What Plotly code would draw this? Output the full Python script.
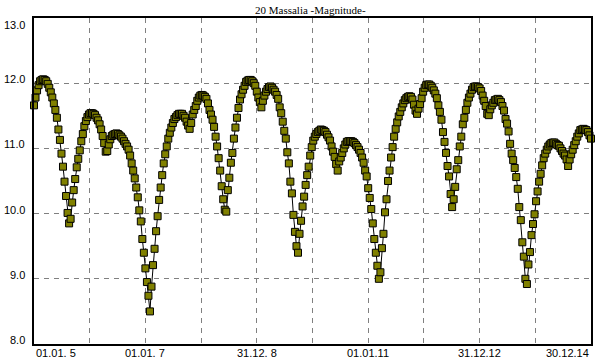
import pandas as pd
import plotly.graph_objects as go

# Magnitude of 20 Massalia, one value every 10 days from 01.01.2005
mag = [
    11.66, 11.78, 11.89, 11.97, 12.03, 12.05, 12.06, 12.05, 12.03, 11.99,
    11.93, 11.86, 11.78, 11.69, 11.59, 11.47, 11.29, 11.13, 10.92, 10.72,
    10.49, 10.27, 10.01, 9.85, 9.92, 10.17, 10.36, 10.53, 10.71, 10.84,
    10.97, 11.11, 11.22, 11.34, 11.42, 11.48, 11.52, 11.54, 11.54, 11.53,
    11.51, 11.47, 11.43, 11.37, 11.29, 11.19, 11.08, 10.95, 10.96, 11.06,
    11.14, 11.19, 11.21, 11.22, 11.23, 11.22, 11.20, 11.18, 11.15, 11.11,
    11.07, 11.03, 10.98, 10.89, 10.77, 10.66, 10.54, 10.40, 10.25, 10.05,
    9.88, 9.61, 9.40, 9.16, 8.95, 8.74, 8.50, 8.88, 9.21, 9.46,
    9.73, 9.96, 10.21, 10.40, 10.59, 10.77, 10.91, 11.03, 11.15, 11.24,
    11.32, 11.39, 11.45, 11.48, 11.51, 11.53, 11.53, 11.53, 11.50, 11.47,
    11.41, 11.35, 11.30, 11.39, 11.52, 11.59, 11.65, 11.73, 11.78, 11.81,
    11.82, 11.81, 11.79, 11.76, 11.69, 11.59, 11.52, 11.44, 11.33, 11.18,
    11.03, 10.85, 10.66, 10.42, 10.22, 10.06, 10.03, 10.36, 10.55, 10.78,
    10.93, 11.15, 11.32, 11.47, 11.62, 11.75, 11.83, 11.90, 11.96, 12.02,
    12.04, 12.05, 12.05, 12.03, 12.00, 11.96, 11.87, 11.78, 11.71, 11.63,
    11.73, 11.81, 11.87, 11.91, 11.94, 11.95, 11.93, 11.90, 11.87, 11.82,
    11.76, 11.63, 11.54, 11.41, 11.27, 11.15, 10.94, 10.77, 10.49, 10.31,
    9.98, 9.72, 9.50, 9.40, 9.69, 9.89, 10.11, 10.26, 10.44, 10.59,
    10.72, 10.89, 11.02, 11.12, 11.18, 11.22, 11.25, 11.27, 11.29, 11.28,
    11.27, 11.25, 11.21, 11.17, 11.12, 11.03, 10.95, 10.87, 10.76, 10.66,
    10.80, 10.86, 10.93, 11.00, 11.06, 11.10, 11.11, 11.11, 11.11, 11.10,
    11.08, 11.05, 11.02, 10.98, 10.93, 10.86, 10.78, 10.66, 10.57, 10.39,
    10.24, 10.07, 9.85, 9.61, 9.40, 9.20, 9.00, 9.10, 9.47, 9.69,
    10.02, 10.22, 10.50, 10.66, 10.86, 11.02, 11.18, 11.30, 11.40, 11.49,
    11.56, 11.63, 11.69, 11.74, 11.77, 11.79, 11.80, 11.79, 11.75, 11.67,
    11.58, 11.53, 11.61, 11.68, 11.77, 11.87, 11.93, 11.97, 11.98, 11.98,
    11.96, 11.93, 11.89, 11.84, 11.77, 11.66, 11.56, 11.44, 11.25, 11.10,
    10.93, 10.73, 10.57, 10.30, 10.10, 10.22, 10.41, 10.68, 10.82, 11.03,
    11.18, 11.37, 11.47, 11.59, 11.70, 11.78, 11.84, 11.90, 11.94, 11.95,
    11.95, 11.94, 11.92, 11.88, 11.81, 11.73, 11.65, 11.53, 11.51, 11.60,
    11.66, 11.70, 11.74, 11.75, 11.76, 11.74, 11.71, 11.65, 11.58, 11.45,
    11.38, 11.26, 11.07, 10.92, 10.82, 10.70, 10.56, 10.38, 10.10, 9.90,
    9.56, 9.34, 9.00, 8.92, 9.22, 9.41, 9.67, 9.84, 9.99, 10.19,
    10.34, 10.49, 10.61, 10.74, 10.85, 10.92, 10.98, 11.03, 11.06, 11.08,
    11.09, 11.09, 11.07, 11.05, 11.04, 11.00, 10.96, 10.92, 10.89, 10.83,
    10.73, 10.83, 10.91, 10.98, 11.05, 11.11, 11.18, 11.23, 11.28, 11.29,
    11.30, 11.29, 11.28, 11.25, 11.20, 11.15,
]
dates = pd.date_range("2005-01-01", periods=len(mag), freq="10D")

# Axis ticks / grid
grid_dates = ["2005-01-01", "2006-01-01", "2007-01-01", "2008-01-01", "2008-12-31",
              "2010-01-01", "2011-01-01", "2011-12-31", "2012-12-31", "2013-12-31",
              "2014-12-30"]
x_label_dates = ["2005-01-01", "2007-01-01", "2008-12-31", "2011-01-01", "2012-12-31", "2014-12-30"]
x_labels = ["01.01. 5", "01.01. 7", "31.12. 8", "01.01.11", "31.12.12", "30.12.14"]
y_values = [8, 9, 10, 11, 12, 13]
y_labels = ["8.0", "9.0", "10.0", "11.0", "12.0", "13.0"]
title_text = "20 Massalia -Magnitude-"

fig = go.Figure()
fig.add_trace(go.Scatter(
    x=dates, y=mag, mode="lines+markers",
    line=dict(color="black", width=1),
    marker=dict(symbol="square", size=7, color="#808000",
                line=dict(color="black", width=1)),
    cliponaxis=False, hoverinfo="skip", showlegend=False,
))

fig.update_xaxes(
    type="date", range=[grid_dates[0], grid_dates[-1]],
    tickmode="array", tickvals=grid_dates, showticklabels=False, ticks="",
    showgrid=True, gridcolor="#808080", gridwidth=1, griddash="5px,5px",
    showline=True, mirror=True, linecolor="black", linewidth=2, zeroline=False,
)
fig.update_yaxes(
    range=[y_values[0], y_values[-1]],
    tickmode="array", tickvals=y_values, showticklabels=False, ticks="",
    showgrid=True, gridcolor="#808080", gridwidth=1, griddash="5px,5px",
    showline=True, mirror=True, linecolor="black", linewidth=2, zeroline=False,
)

annotations = []
lab_font = dict(family="Liberation Sans, Arial, sans-serif", size=11, color="black")
for i, (d, t) in enumerate(zip(x_label_dates, x_labels)):
    anchor = "left" if i == 0 else ("right" if i == len(x_labels) - 1 else "center")
    annotations.append(dict(x=d, y=0, xref="x", yref="paper", text=t, showarrow=False,
                            xanchor=anchor, yanchor="middle", yshift=-9, font=lab_font))
for v, t in zip(y_values, y_labels):
    ys = -7 if v == y_values[-1] else 4
    annotations.append(dict(x=0, y=v, xref="paper", yref="y", text=t, showarrow=False,
                            xanchor="right", yanchor="middle", xshift=-7, yshift=ys,
                            font=lab_font))
annotations.append(dict(x=0.5, y=1, xref="paper", yref="paper", text=title_text,
                        showarrow=False, xanchor="center", yanchor="bottom", xshift=-2,
                        font=dict(family="Liberation Serif, Times New Roman, serif",
                                  size=11, color="black")))

fig.update_layout(
    width=600, height=360,
    margin=dict(l=34, r=7, t=18, b=16),
    paper_bgcolor="white", plot_bgcolor="white",
    annotations=annotations,
)

fig.write_html("out.html", config={"displayModeBar": False, "staticPlot": True},
               post_script="document.body.style.margin='0';document.body.style.overflow='hidden';")
